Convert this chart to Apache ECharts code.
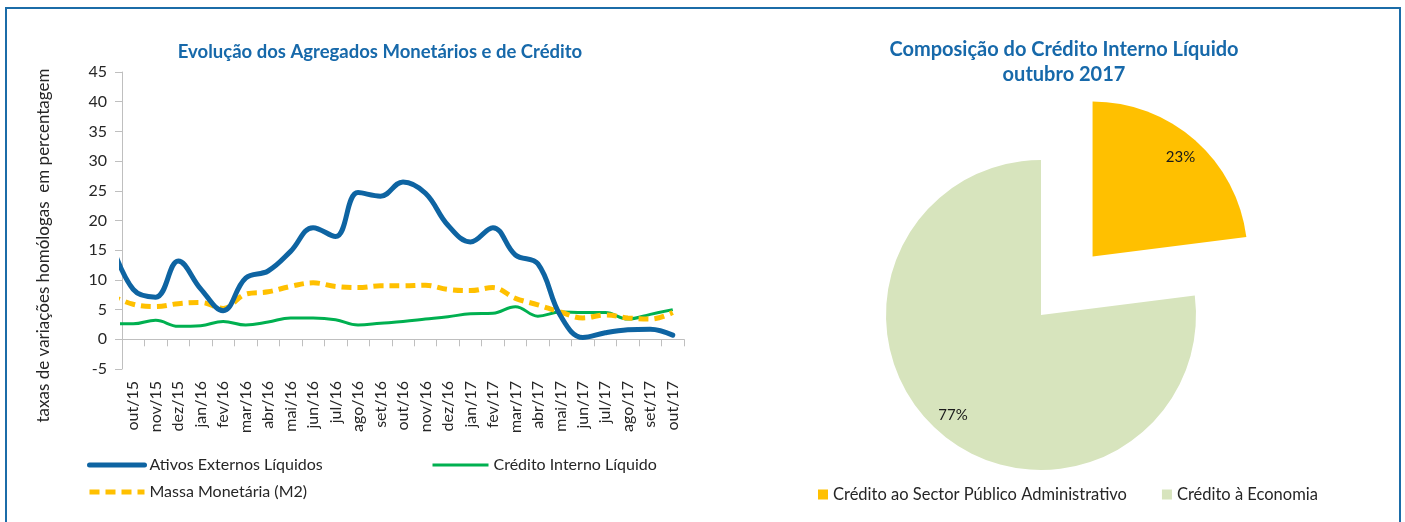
<!DOCTYPE html>
<html>
<head>
<meta charset="utf-8">
<script src="https://cdn.jsdelivr.net/npm/echarts@6/dist/echarts.min.js"></script>
<style>
  html, body { margin: 0; padding: 0; background: #fff; }
  #chart { position: absolute; left: 0; top: 0; width: 1405px; height: 522px; }
  #frame { position: absolute; left: 5px; top: 7px; width: 1392px; height: 530px;
           border: 2px solid #1b6ca8; border-bottom: none; pointer-events: none; }
</style>
</head>
<body>
<div id="chart"></div>
<div id="frame"></div>
<script>
// months; 'set/15' only feeds the curve that enters from the left edge
const meses = ['set/15', 'out/15', 'nov/15', 'dez/15', 'jan/16', 'fev/16', 'mar/16', 'abr/16', 'mai/16',
  'jun/16', 'jul/16', 'ago/16', 'set/16', 'out/16', 'nov/16', 'dez/16', 'jan/17', 'fev/17',
  'mar/17', 'abr/17', 'mai/17', 'jun/17', 'jul/17', 'ago/17', 'set/17', 'out/17'];

const ativosExternos = [16.5, 8.4, 7.1, 13.2, 8.5, 4.8, 10.3, 11.5, 14.8, 18.8, 17.3, 24.7, 24.1,
  26.5, 24.6, 19.2, 16.4, 18.8, 14.2, 12.7, 4.0, 0.3, 1.1, 1.6, 1.7, 0.7];
const creditoInterno = [2.6, 2.6, 3.2, 2.2, 2.3, 3.0, 2.4, 2.9, 3.6, 3.6, 3.3, 2.4, 2.7,
  3.0, 3.4, 3.8, 4.3, 4.4, 5.5, 3.9, 4.6, 4.5, 4.5, 3.4, 4.2, 5.0];
const massaMonetaria = [7.4, 5.9, 5.5, 6.0, 6.2, 5.2, 7.6, 8.0, 8.9, 9.5, 8.9, 8.7, 9.0,
  9.0, 9.1, 8.4, 8.2, 8.7, 6.9, 5.8, 4.6, 3.6, 4.1, 3.6, 3.4, 4.5];

const pieNomes = ['Crédito ao Sector Público Administrativo', 'Crédito à Economia'];
const pieValores = [23, 77];

const FONT = 'Lato';
const TXT = '#262626';
const AZUL_TITULO = '#1769aa';

const chart = echarts.init(document.getElementById('chart'));

const pieData = pieNomes.map((n, i) => ({ name: n, value: pieValores[i], selected: i === 0 }));

chart.setOption({
  animation: false,
  textStyle: { fontFamily: FONT, color: TXT },
  title: [
    {
      text: 'Evolução dos Agregados Monetários e de Crédito',
      left: 375, top: 38, textAlign: 'center',
      textStyle: { fontFamily: FONT, fontSize: 18.5, fontWeight: 'bold', color: AZUL_TITULO }
    },
    {
      text: 'Composição do Crédito Interno Líquido\noutubro 2017',
      left: 1059, top: 32, textAlign: 'center',
      textStyle: { fontFamily: FONT, fontSize: 20, fontWeight: 'bold', color: AZUL_TITULO, lineHeight: 25 }
    }
  ],
  legend: [
    {
      data: [
        { name: 'Ativos Externos Líquidos', lineStyle: { width: 5 } },
        { name: 'Massa Monetária (M2)', lineStyle: { width: 5, type: [10, 6] } }
      ],
      orient: 'vertical', left: 82, top: 452, itemGap: 11,
      itemWidth: 55, itemHeight: 16, itemStyle: { opacity: 0 },
      textStyle: { fontFamily: FONT, fontSize: 16, color: TXT }
    },
    {
      data: [{ name: 'Crédito Interno Líquido', lineStyle: { width: 3 } }],
      orient: 'vertical', left: 426, top: 452,
      itemWidth: 56, itemHeight: 16, itemStyle: { opacity: 0 },
      textStyle: { fontFamily: FONT, fontSize: 16, color: TXT }
    },
    {
      data: pieNomes,
      left: 813, top: 481, itemGap: 35,
      icon: 'rect', itemWidth: 10, itemHeight: 10,
      textStyle: { fontFamily: FONT, fontSize: 16.5, color: TXT }
    }
  ],
  grid: { left: 122, right: 721, top: 72, bottom: 153, containLabel: false },
  xAxis: {
    type: 'category',
    data: meses,
    min: 1,
    boundaryGap: true,
    axisLine: { onZero: true, lineStyle: { color: '#bfbfbf', width: 1 } },
    axisTick: { show: true, length: 7, lineStyle: { color: '#bfbfbf' } },
    axisLabel: { interval: 0, rotate: 90, margin: 12, fontSize: 16, color: TXT, fontFamily: FONT },
    splitLine: { show: false }
  },
  yAxis: {
    type: 'value',
    min: -5, max: 45, interval: 5,
    name: 'taxas de variações homólogas  em percentagem',
    nameLocation: 'middle', nameGap: 70,
    nameTextStyle: { fontFamily: FONT, fontSize: 17, color: TXT, padding: [0, 50, 0, 0] },
    axisLine: { show: true, lineStyle: { color: '#bfbfbf', width: 1 } },
    axisTick: { show: true, length: 7, lineStyle: { color: '#bfbfbf' } },
    axisLabel: { fontSize: 16, color: TXT, margin: 15, fontFamily: FONT },
    splitLine: { show: false }
  },
  series: [
    {
      name: 'Crédito Interno Líquido', type: 'line', data: creditoInterno,
      smooth: 0.4, symbol: 'none', clip: true,
      lineStyle: { color: '#00b050', width: 3 }, itemStyle: { color: '#00b050' }
    },
    {
      name: 'Massa Monetária (M2)', type: 'line', data: massaMonetaria,
      smooth: 0.4, symbol: 'none', clip: true,
      lineStyle: { color: '#ffc000', width: 5, type: [10, 6] }, itemStyle: { color: '#ffc000' }
    },
    {
      name: 'Ativos Externos Líquidos', type: 'line', data: ativosExternos,
      smooth: 0.4, symbol: 'none', clip: true,
      lineStyle: { color: '#0e64a2', width: 5, cap: 'round' }, itemStyle: { color: '#0e64a2' }
    },
    {
      name: 'Composição', type: 'pie',
      center: [1041, 315], radius: 155,
      startAngle: 90, clockwise: true,
      selectedMode: 'single', selectedOffset: 78,
      data: pieData,
      color: ['#ffc000', '#d7e4bd'],
      label: { show: false }, labelLine: { show: false },
      emphasis: { disabled: true }, silent: true
    },
    {
      name: 'Rótulos', type: 'pie',
      center: [1041, 315], radius: [105, 155],
      startAngle: 90, clockwise: true,
      selectedMode: 'single', selectedOffset: 78,
      data: pieData,
      itemStyle: { color: 'rgba(0,0,0,0)' },
      label: { show: true, position: 'inside', formatter: '{d}%', fontSize: 15, color: '#1a1a1a', fontFamily: FONT },
      labelLine: { show: false },
      emphasis: { disabled: true }, silent: true
    }
  ]
});
</script>
</body>
</html>
